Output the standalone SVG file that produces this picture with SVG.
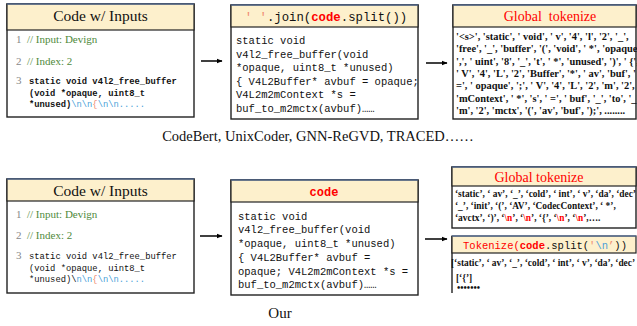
<svg xmlns="http://www.w3.org/2000/svg" width="637" height="326" viewBox="0 0 637 326">
<defs>
<marker id="ah" viewBox="0 0 10 10" refX="9" refY="5" markerWidth="6" markerHeight="6" markerUnits="userSpaceOnUse" orient="auto"><path d="M0,1 L10,5 L0,9 z" fill="#000"/></marker>
<style>
.hdr{fill:#FDF0CC;stroke:#222;stroke-width:1.2}
.htop{stroke:#5A7BB0;stroke-width:1.2}
.body{fill:#fff;stroke:#222;stroke-width:1.4}
.ser{font-family:"Liberation Serif","Times New Roman",serif}
.mono{font-family:"Liberation Mono","DejaVu Sans Mono",monospace}
.ttl{font-size:15.5px;fill:#111}
.num{font-size:11px;fill:#888}
.cmt{font-size:11px;fill:#4F8A3C}
.code9{font-size:8.8px;fill:#111}
.code10{font-size:10.5px;fill:#111}
.tok{font-size:9.4px;font-weight:bold;fill:#111}
.tokL{font-size:10.4px;font-weight:bold;fill:#111}
.red{fill:#FF0000}
.blue{fill:#4A9FD8}
.sal{fill:#F08A70}
.conn{stroke:#000;stroke-width:1.5;fill:none}
.cap{font-size:14.5px;fill:#111}
</style>
</defs>

<g id="connectors">
<line class="conn" x1="201" y1="61" x2="222" y2="61" marker-end="url(#ah)"/>
<line class="conn" x1="426" y1="63" x2="447" y2="63" marker-end="url(#ah)"/>
<line class="conn" x1="200" y1="236" x2="222" y2="236" marker-end="url(#ah)"/>
<line class="conn" x1="425" y1="239" x2="447" y2="239" marker-end="url(#ah)"/>
</g>

<g id="top-input">
<rect class="body" x="7" y="4" width="187" height="113"/>
<rect class="hdr" x="7" y="4" width="187" height="26"/>
<line class="htop" x1="7" y1="4" x2="194" y2="4"/>
<text class="ser ttl" x="100.5" y="21" text-anchor="middle">Code w/ Inputs</text>
<text class="ser num" x="16" y="43">1</text>
<text class="ser cmt" x="27" y="43">// Input: Devign</text>
<text class="ser num" x="16" y="65">2</text>
<text class="ser cmt" x="27" y="65">// Index: 2</text>
<text class="ser num" x="16" y="84">3</text>
<text class="mono code9" font-weight="bold" x="29" y="84">static void v4l2_free_buffer</text>
<text class="mono code9" font-weight="bold" x="29" y="96">(void *opaque, uint8_t</text>
<text class="mono code9" font-weight="bold" x="29" y="107">*unused)<tspan class="blue" font-weight="normal">\n\n</tspan><tspan class="sal" font-weight="normal">{</tspan><tspan class="blue" font-weight="normal">\n\n.....</tspan></text>
</g>

<g id="top-join">
<rect class="body" x="231" y="5" width="187" height="114"/>
<rect class="hdr" x="231" y="5" width="187" height="22"/>
<line class="htop" x1="231" y1="5" x2="418" y2="5"/>
<text class="mono" font-size="12.3" x="326" y="21" text-anchor="middle" fill="#111"><tspan class="sal">' '</tspan>.join(<tspan class="red" font-weight="bold">code</tspan>.split())</text>
<text class="mono code10" x="236" y="44">static void</text>
<text class="mono code10" x="236" y="58">v4l2_free_buffer(void</text>
<text class="mono code10" x="236" y="71">*opaque, uint8_t *unused)</text>
<text class="mono code10" x="236" y="85">{ V4L2Buffer* avbuf = opaque;</text>
<text class="mono code10" x="236" y="98">V4L2m2mContext *s =</text>
<text class="mono code10" x="236" y="112">buf_to_m2mctx(avbuf)……</text>
</g>

<g id="top-global">
<rect class="body" x="453" y="5" width="183" height="114"/>
<rect class="hdr" x="453" y="5" width="183" height="22"/>
<line class="htop" x1="453" y1="5" x2="636" y2="5"/>
<text class="ser red" font-size="14" x="550" y="21" text-anchor="middle" xml:space="preserve">Global  tokenize</text>
<text class="ser tokL" x="456" y="40" xml:space="preserve">'&lt;s&gt;', 'static', ' void', ' v', '4', 'l', '2', '_',</text>
<text class="ser tokL" x="456" y="52.3" xml:space="preserve">'free', '_', 'buffer', '(', 'void', ' *', 'opaque',</text>
<text class="ser tokL" x="456" y="64.6" xml:space="preserve">',', ' uint', '8', '_', 't', ' *', 'unused', ')', ' {',</text>
<text class="ser tokL" x="456" y="76.9" xml:space="preserve">' V', '4', 'L', '2', 'Buffer', '*', ' av', 'buf', '</text>
<text class="ser tokL" x="456" y="89.2" xml:space="preserve">=', ' opaque', ';', ' V', '4', 'L', '2', 'm', '2',</text>
<text class="ser tokL" x="456" y="101.5" xml:space="preserve">'mContext', ' *', 's', ' =', ' buf', '_', 'to', '_',</text>
<text class="ser tokL" x="456" y="113.8" xml:space="preserve">'m', '2', 'mctx', '(', 'av', 'buf', ');', ........</text>
</g>

<text class="ser cap" x="318" y="141" text-anchor="middle">CodeBert, UnixCoder, GNN-ReGVD, TRACED……</text>

<g id="bottom-input">
<rect class="body" x="7" y="179" width="187" height="114"/>
<rect class="hdr" x="7" y="179" width="187" height="22"/>
<line class="htop" x1="7" y1="179" x2="194" y2="179"/>
<text class="ser ttl" x="100.5" y="196" text-anchor="middle">Code w/ Inputs</text>
<text class="ser num" x="16" y="218">1</text>
<text class="ser cmt" x="27" y="218">// Input: Devign</text>
<text class="ser num" x="16" y="239">2</text>
<text class="ser cmt" x="27" y="239">// Index: 2</text>
<text class="ser num" x="16" y="259">3</text>
<text class="mono code9" x="29" y="259">static void v4l2_free_buffer</text>
<text class="mono code9" x="29" y="271">(void *opaque, uint8_t</text>
<text class="mono code9" x="29" y="282">*unused)\<tspan class="blue">n\n</tspan><tspan class="sal">{</tspan><tspan class="blue">\n\n.....</tspan></text>
</g>

<g id="bottom-code">
<rect class="body" x="231" y="180" width="187" height="115"/>
<rect class="hdr" x="231" y="180" width="187" height="22"/>
<line class="htop" x1="231" y1="180" x2="418" y2="180"/>
<text class="mono red" font-size="12" font-weight="bold" x="324" y="196" text-anchor="middle">code</text>
<text class="mono code10" x="238" y="220">static void</text>
<text class="mono code10" x="238" y="233">v4l2_free_buffer(void</text>
<text class="mono code10" x="238" y="247">*opaque, uint8_t *unused)</text>
<text class="mono code10" x="238" y="261">{ V4L2Buffer* avbuf =</text>
<text class="mono code10" x="238" y="275">opaque; V4L2m2mContext *s =</text>
<text class="mono code10" x="238" y="288">buf_to_m2mctx(avbuf)……</text>
</g>

<text class="ser" font-size="15" fill="#111" x="280" y="318" text-anchor="middle">Our</text>

<g id="bottom-global">
<rect class="body" x="452" y="167" width="184" height="61"/>
<rect class="hdr" x="452" y="167" width="184" height="19"/>
<line class="htop" x1="452" y1="167" x2="636" y2="167"/>
<text class="ser red" font-size="14" x="539" y="182" text-anchor="middle">Global tokenize</text>
<text class="ser tok" x="455" y="197" xml:space="preserve">‘static’, ‘ av’, ‘_’, ‘cold’, ‘ int’, ‘ v’, ‘da’, ‘dec’</text>
<text class="ser tok" x="455" y="209" xml:space="preserve">‘_’, ‘init’, ‘(’, ‘AV’, ‘CodecContext’, ‘ *’,</text>
<text class="ser tok" x="455" y="221" xml:space="preserve">‘avctx’, ‘)’, ‘<tspan class="red">\n</tspan>’, ‘<tspan class="red">\n</tspan>’, ‘{’, ‘<tspan class="red">\n</tspan>’, ‘<tspan class="red">\n</tspan>’,….</text>
</g>

<g id="bottom-tokenize">
<line x1="452" y1="236" x2="452" y2="293" stroke="#222" stroke-width="1.4"/>
<rect class="hdr" x="452" y="236" width="184" height="17"/>
<line class="htop" x1="452" y1="236" x2="636" y2="236"/>
<text class="mono" font-size="10.5" x="545" y="249" text-anchor="middle" fill="#111"><tspan class="red">Tokenize(</tspan><tspan class="red" font-weight="bold">code</tspan>.split(<tspan class="sal">'</tspan><tspan class="blue">\n</tspan><tspan class="sal">’</tspan>))</text>
<text class="ser tok" x="451" y="266" xml:space="preserve">[‘static’, ‘ av’, ‘_’, ‘cold’, ‘ int’, ‘ v’, ‘da’, ‘dec’</text>
<text class="ser tok" x="456" y="281">[‘{’]</text>
<text class="ser tok" font-size="8" x="457" y="291">•••••••</text>
</g>
</svg>
